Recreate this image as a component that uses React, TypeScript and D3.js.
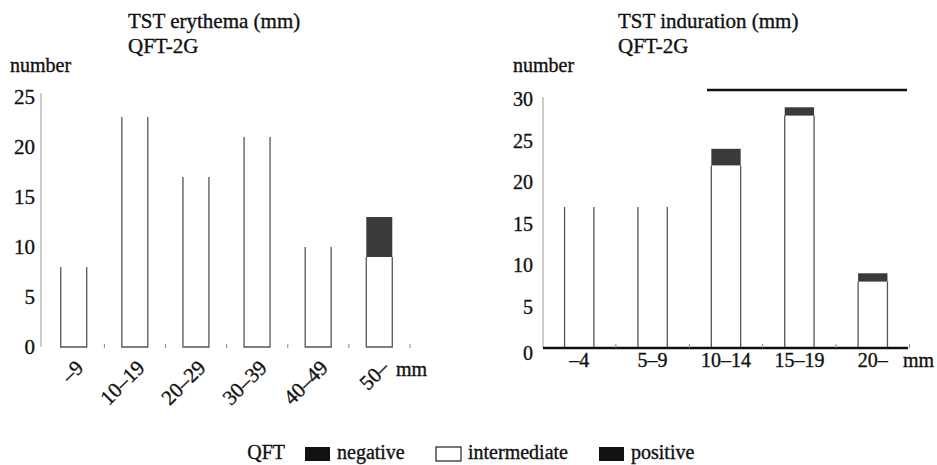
import React from "react";
import * as d3 from "d3";

const erythemaCats = ["–9", "10–19", "20–29", "30–39", "40–49", "50–"];
const erythemaNeg = [0, 0, 0, 0, 0, 0];
const erythemaInt = [8, 23, 17, 21, 10, 9];
const erythemaPos = [0, 0, 0, 0, 0, 4];
const erythemaTicks = [0, 5, 10, 15, 20, 25];

const indurationCats = ["–4", "5–9", "10–14", "15–19", "20–"];
const indurationNeg = [0, 0, 0, 0, 0];
const indurationInt = [17, 17, 22, 28, 8];
const indurationPos = [0, 0, 2, 1, 1];
const indurationTicks = [0, 5, 10, 15, 20, 25, 30];

const legendLabels = ["negative", "intermediate", "positive"];

const FONT = "Liberation Serif, DejaVu Serif, serif";
const POS_FILL = "#3a3a3a";
const NEG_FILL = "#111";
const EDGE = "#555";

function stack(neg: number[], int: number[], pos: number[]) {
  return neg.map((n, i) => ({ neg: n, int: int[i], pos: pos[i] }));
}

export default function App() {
  const xL = d3.scaleBand<string>().domain(erythemaCats).range([43, 410]).paddingInner(0.575).paddingOuter(0.29);
  const yL = d3.scaleLinear().domain([0, 25]).range([347, 97]);
  const dataL = stack(erythemaNeg, erythemaInt, erythemaPos);

  const xR = d3.scaleBand<string>().domain(indurationCats).range([544, 908]).paddingInner(0.6).paddingOuter(0.28);
  const yR = d3.scaleLinear().domain([0, 30]).range([348, 99]);
  const dataR = stack(indurationNeg, indurationInt, indurationPos);

  const renderBars = (cats: string[], data: any[], x: any, y: any) =>
    cats.map((c, i) => {
      const d = data[i];
      const x0 = x(c);
      const w = x.bandwidth();
      const yBase = y(0);
      const yNeg = y(d.neg);
      const yInt = y(d.neg + d.int);
      const yPos = y(d.neg + d.int + d.pos);
      return (
        <g key={c}>
          {d.neg > 0 && <rect x={x0} y={yNeg} width={w} height={yBase - yNeg} fill={NEG_FILL} />}
          <path
            d={`M${x0},${yInt}V${yBase}H${x0 + w}V${yInt}`}
            fill="white"
            stroke={EDGE}
            strokeWidth={1.3}
          />
          {d.pos > 0 && <rect x={x0} y={yPos} width={w} height={yInt - yPos} fill={POS_FILL} />}
        </g>
      );
    });

  const legendItems = [
    { x: 305, label: legendLabels[0], fill: NEG_FILL, stroke: "none" },
    { x: 436, label: legendLabels[1], fill: "white", stroke: "#222" },
    { x: 599, label: legendLabels[2], fill: NEG_FILL, stroke: "none" },
  ];

  const ts = { fontFamily: FONT, stroke: "#111", strokeWidth: 0.35 };

  return (
    <svg
      width={937}
      height={465}
      style={{ position: "absolute", left: 0, top: 0, background: "white", fontFamily: FONT }}
      fill="#111"
    >
      <text style={ts} x={128} y={28} fontSize={21}>TST erythema (mm)</text>
      <text style={ts} x={128} y={53} fontSize={21}>QFT-2G</text>
      <text style={ts} x={10} y={72} fontSize={20}>number</text>
      <line x1={41} x2={41} y1={yL(0)} y2={93} stroke="#999" strokeWidth={1} />
      {erythemaTicks.map((t) => (
        <text style={ts} key={t} x={35} y={yL(t)} dy="0.35em" textAnchor="end" fontSize={21}>
          {t}
        </text>
      ))}
      {renderBars(erythemaCats, dataL, xL, yL)}
      {erythemaCats.map((c) => {
        const ex = (xL(c) as number) + xL.bandwidth() + xL.step() * 0.29;
        return <line key={"tk" + c} x1={ex} x2={ex} y1={yL(0) - 3} y2={yL(0) + 1} stroke="#888" strokeWidth={1} />;
      })}
      {erythemaCats.map((c) => {
        const cx = (xL(c) as number) + xL.bandwidth() / 2 + 11;
        const cy = 369;
        return (
          <text style={ts} key={"lb" + c} x={cx} y={cy} textAnchor="end" fontSize={21} transform={`rotate(-45 ${cx} ${cy})`}>
            {c}
          </text>
        );
      })}
      <text style={ts} x={396} y={376} fontSize={20}>mm</text>

      <text style={ts} x={618} y={28} fontSize={21}>TST induration (mm)</text>
      <text style={ts} x={618} y={53} fontSize={21}>QFT-2G</text>
      <text style={ts} x={513} y={72} fontSize={20}>number</text>
      <line x1={707} x2={907} y1={90} y2={90} stroke="#111" strokeWidth={2.5} />
      <line x1={543} x2={543} y1={yR(0)} y2={97} stroke="#999" strokeWidth={1} />
      {indurationTicks.map((t) => (
        <text style={ts} key={t} x={533} y={yR(t) + (t === 0 ? 5 : 0)} dy="0.35em" textAnchor="end" fontSize={20}>
          {t}
        </text>
      ))}
      {renderBars(indurationCats, dataR, xR, yR)}
      <line x1={543} x2={908} y1={yR(0)} y2={yR(0)} stroke="#111" strokeWidth={2.5} />
      {indurationCats.map((c) => {
        const ex = (xR(c) as number) + xR.bandwidth() + xR.step() * 0.3;
        return <line key={"rt" + c} x1={ex} x2={ex} y1={yR(0) - 4} y2={yR(0)} stroke="#888" strokeWidth={1} />;
      })}
      {indurationCats.map((c) => (
        <text style={ts} key={"rl" + c} x={(xR(c) as number) + xR.bandwidth() / 2} y={367} textAnchor="middle" fontSize={20}>
          {c}
        </text>
      ))}
      <text style={ts} x={903} y={367} fontSize={20}>mm</text>

      <text style={ts} x={285} y={459} textAnchor="end" fontSize={20}>QFT</text>
      {legendItems.map((it) => (
        <g key={it.label}>
          <rect x={it.x} y={447} width={25} height={14} fill={it.fill} stroke={it.stroke} strokeWidth={1.2} />
          <text style={ts} x={it.x + 32} y={459} fontSize={20}>
            {it.label}
          </text>
        </g>
      ))}
    </svg>
  );
}
